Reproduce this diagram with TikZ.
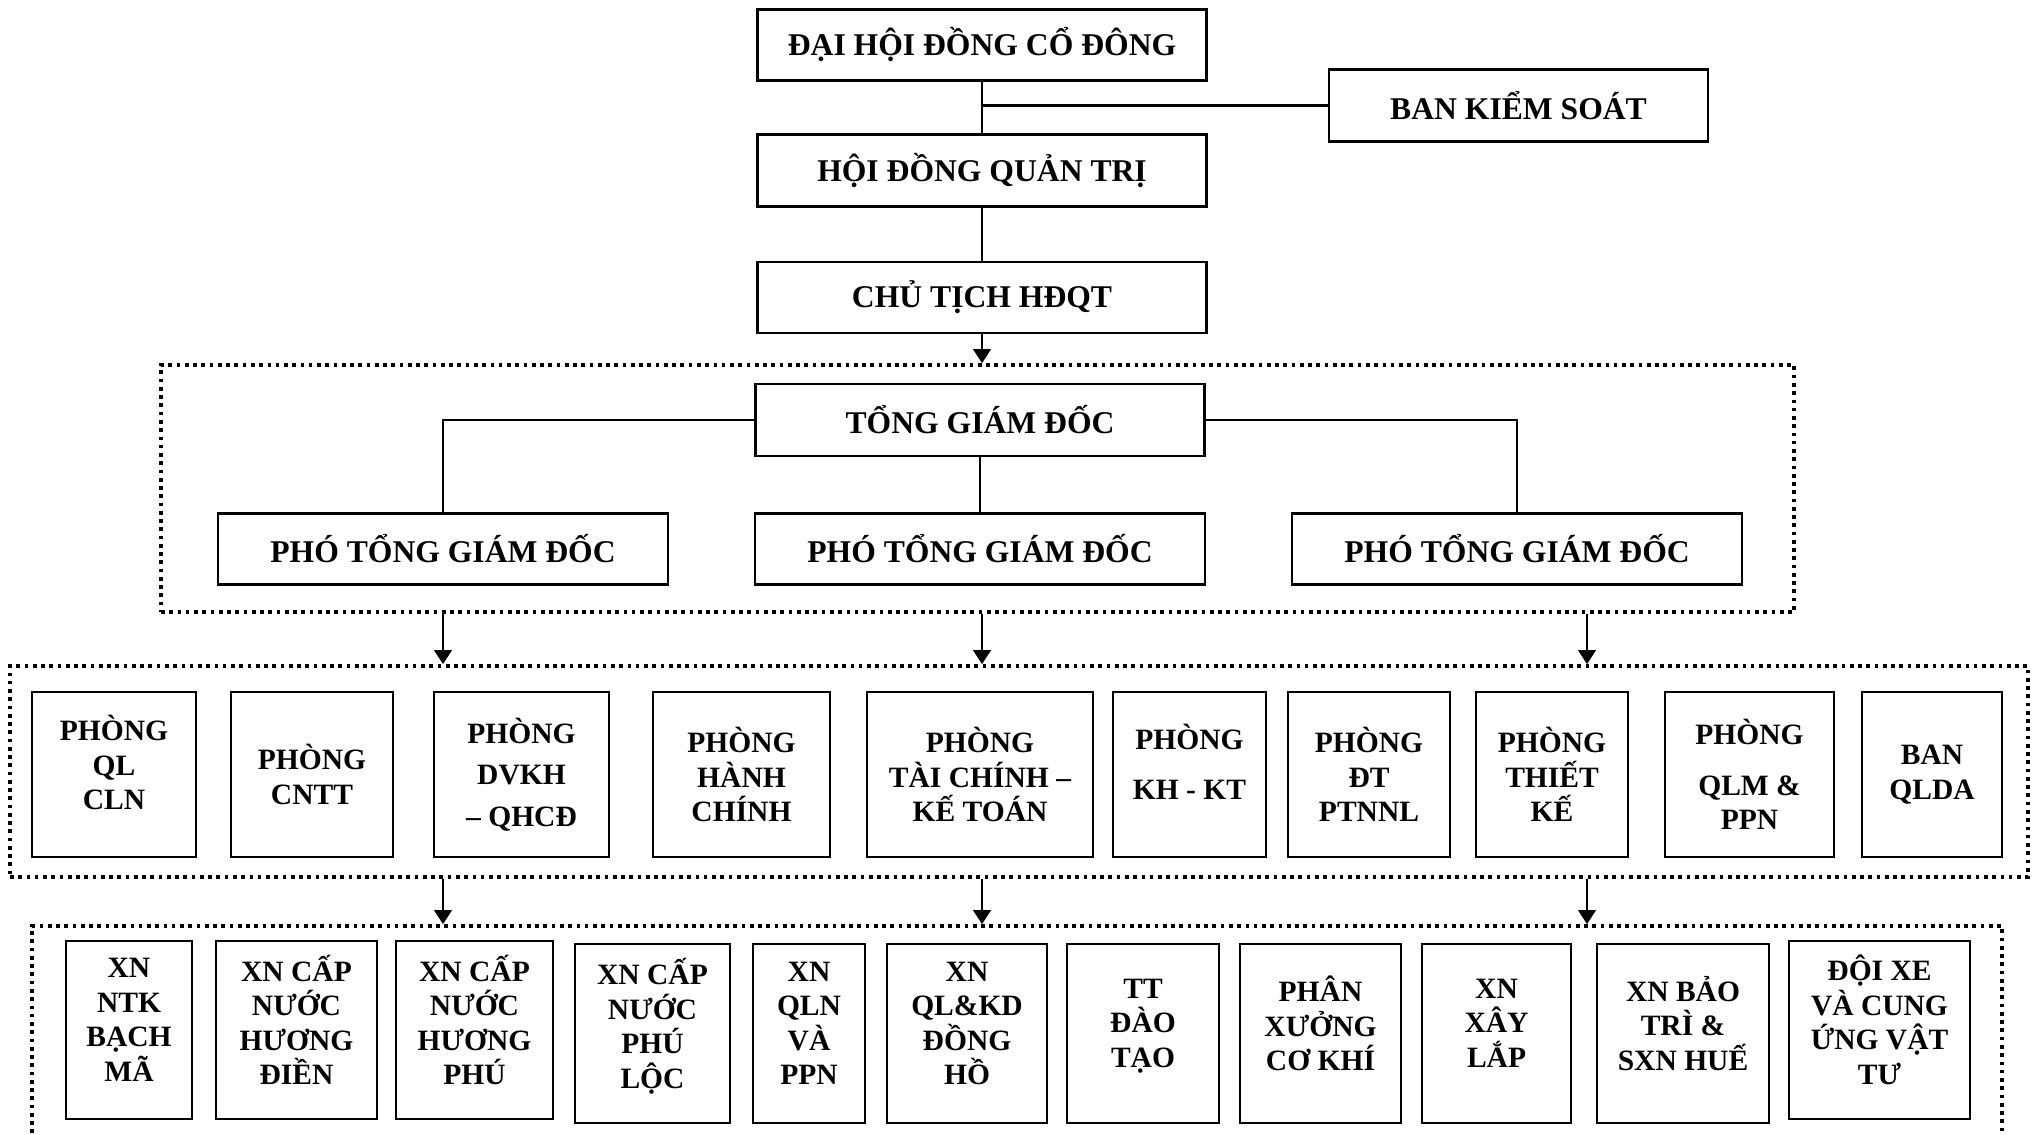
\documentclass[tikz,border=0pt]{standalone}
\usepackage{fontspec}
\setmainfont{Liberation Serif}
\usetikzlibrary{arrows.meta}

\tikzset{
    hop/.style={draw, line width=0.7pt, align=center, font=\fontsize{9}{10.8}\selectfont\bfseries, minimum width=4.49cm, minimum height=0.71cm},
    phong/.style={draw, line width=0.7pt, align=center, font=\fontsize{8.4}{9.8}\selectfont\bfseries, minimum height=1.65cm},
    xn/.style={draw, line width=0.7pt, align=center, font=\fontsize{8.4}{9.8}\selectfont\bfseries, minimum height=1.78cm},
    khung/.style={draw, line width=1.05pt, dash pattern=on 1.05pt off 1.3pt},
    noi/.style={line width=0.6pt},
    mui/.style={line width=0.65pt, -{Triangle[width=5pt,length=4pt]}},
}
\newcommand{\dayle}[1]{\\[-#1]\mbox{}}

\begin{document}
\begin{tikzpicture}
    \useasboundingbox (0,0) rectangle (20.36,-11.34);
    % hoi dong
    \node[hop] (dhcd) at (9.82,-0.45) {ĐẠI HỘI ĐỒNG CỔ ĐÔNG};
    \node[hop, minimum width=3.79cm, minimum height=0.72cm] (bks) at (15.185,-1.055) {BAN KIỂM SOÁT};
    \node[hop, minimum height=0.72cm] (hdqt) at (9.82,-1.705) {HỘI ĐỒNG QUẢN TRỊ};
    \node[hop] (ctich) at (9.82,-2.975) {CHỦ TỊCH HĐQT};
    \draw[noi] (dhcd) -- (hdqt);
    \draw[noi] (dhcd.south |- bks.west) -- (bks.west);
    \draw[noi] (hdqt) -- (ctich);
    % ban tong giam doc
    \node[khung, minimum width=16.33cm, minimum height=2.47cm] (khoi1) at (9.775,-4.885) {};
    \node[hop, minimum height=0.72cm] (tgd) at (9.80,-4.20) {TỔNG GIÁM ĐỐC};
    \node[hop, minimum width=4.5cm] (ptgd1) at (4.43,-5.49) {PHÓ TỔNG GIÁM ĐỐC};
    \node[hop, minimum width=4.5cm] (ptgd2) at (9.80,-5.49) {PHÓ TỔNG GIÁM ĐỐC};
    \node[hop, minimum width=4.5cm] (ptgd3) at (15.17,-5.49) {PHÓ TỔNG GIÁM ĐỐC};
    \draw[noi] (tgd.west) -| (ptgd1.north);
    \draw[noi] (tgd) -- (ptgd2);
    \draw[noi] (tgd.east) -| (ptgd3.north);
    \draw[mui] (ctich.south) -- (ctich.south |- khoi1.north);
    % cac phong
    \node[khung, minimum width=20.18cm, minimum height=2.11cm] (khoi2) at (10.19,-7.715) {};
    \node[phong, minimum width=1.64cm] (p1) at (1.14,-7.745) {PHÒNG\\QL\\CLN\dayle{3pt}};
    \node[phong, minimum width=1.62cm] (p2) at (3.12,-7.745) {PHÒNG\\CNTT};
    \node[phong, minimum width=1.75cm] (p3) at (5.215,-7.745) {PHÒNG\\[2pt]DVKH\\[2pt]– QHCĐ};
    \node[phong, minimum width=1.77cm] (p4) at (7.415,-7.745) {PHÒNG\\HÀNH\\CHÍNH};
    \node[phong, minimum width=2.26cm] (p5) at (9.80,-7.745) {PHÒNG\\TÀI CHÍNH –\\KẾ TOÁN};
    \node[phong, minimum width=1.53cm] (p6) at (11.895,-7.745) {PHÒNG\\[4.5pt]KH - KT\dayle{2.4pt}};
    \node[phong, minimum width=1.62cm] (p7) at (13.69,-7.745) {PHÒNG\\ĐT\\PTNNL};
    \node[phong, minimum width=1.52cm] (p8) at (15.52,-7.745) {PHÒNG\\THIẾT\\KẾ};
    \node[phong, minimum width=1.69cm] (p9) at (17.495,-7.745) {PHÒNG\\[4.5pt]QLM \&\\PPN};
    \node[phong, minimum width=1.40cm] (p10) at (19.32,-7.745) {BAN\\QLDA};
    \coordinate (nhanh3) at (15.87,0);
    \draw[mui] (khoi1.south -| ptgd1) -- (khoi2.north -| ptgd1);
    \draw[mui] (khoi1.south -| ctich) -- (khoi2.north -| ctich);
    \draw[mui] (khoi1.south -| nhanh3) -- (khoi2.north -| nhanh3);
    % xi nghiep, don vi
    \node[khung, minimum width=19.70cm, minimum height=2.34cm] (khoi3) at (10.17,-10.43) {};
    \node[xn, minimum width=1.26cm] (xn1) at (1.29,-10.30) {XN\\NTK\\BẠCH\\MÃ\dayle{4pt}};
    \node[xn, minimum width=1.61cm] (xn2) at (2.965,-10.30) {XN CẤP\\NƯỚC\\HƯƠNG\\ĐIỀN\dayle{4pt}};
    \node[xn, minimum width=1.57cm] (xn3) at (4.745,-10.30) {XN CẤP\\NƯỚC\\HƯƠNG\\PHÚ\dayle{4pt}};
    \node[xn, minimum width=1.55cm, minimum height=1.79cm] (xn4) at (6.525,-10.335) {XN CẤP\\NƯỚC\\PHÚ\\LỘC\dayle{4pt}};
    \node[xn, minimum width=1.12cm, minimum height=1.79cm] (xn5) at (8.09,-10.335) {XN\\QLN\\VÀ\\PPN\dayle{4pt}};
    \node[xn, minimum width=1.60cm, minimum height=1.79cm] (xn6) at (9.67,-10.335) {XN\\QL\&KD\\ĐỒNG\\HỒ\dayle{4pt}};
    \node[xn, minimum width=1.52cm, minimum height=1.79cm] (xn7) at (11.43,-10.335) {TT\\ĐÀO\\TẠO\dayle{4pt}};
    \node[xn, minimum width=1.61cm, minimum height=1.79cm] (xn8) at (13.205,-10.335) {PHÂN\\XƯỞNG\\CƠ KHÍ\dayle{4pt}};
    \node[xn, minimum width=1.49cm, minimum height=1.79cm] (xn9) at (14.965,-10.335) {XN\\XÂY\\LẮP\dayle{4pt}};
    \node[xn, minimum width=1.72cm, minimum height=1.79cm] (xn10) at (16.83,-10.335) {XN BẢO\\TRÌ \&\\SXN HUẾ\dayle{4pt}};
    \node[xn, minimum width=1.81cm] (xn11) at (18.795,-10.30) {ĐỘI XE\\VÀ CUNG\\ỨNG VẬT\\TƯ\dayle{4pt}};
    \draw[mui] (khoi2.south -| ptgd1) -- (khoi3.north -| ptgd1);
    \draw[mui] (khoi2.south -| ctich) -- (khoi3.north -| ctich);
    \draw[mui] (khoi2.south -| nhanh3) -- (khoi3.north -| nhanh3);
\end{tikzpicture}
\end{document}
